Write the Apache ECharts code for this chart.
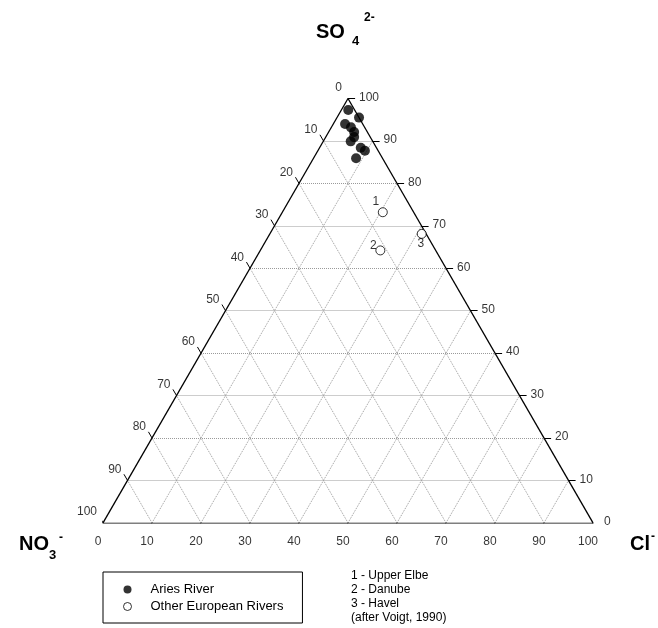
<!DOCTYPE html>
<html>
<head>
<meta charset="utf-8">
<script src="https://cdn.jsdelivr.net/npm/echarts@6/dist/echarts.min.js"></script>
<style>
  html, body { margin: 0; padding: 0; background: #fff; }
  #chart { width: 658px; height: 628px; }
</style>
</head>
<body>
<div id="chart"></div>
<script>
// Anion composition (percent): SO4, Cl; NO3 is the remainder.
const ariesSO4 = [97.3, 95.5, 94.0, 93.2, 92.1, 90.9, 89.9, 88.4, 87.7, 85.9];
const ariesCl  = [1.4, 4.5, 2.4, 4.0, 5.2, 5.8, 5.6, 8.4, 9.6, 8.7];

const riverNames = ['Upper Elbe', 'Danube', 'Havel'];
const riverNums  = ['1', '2', '3'];
const riverSO4   = [73.2, 64.2, 68.1];
const riverCl    = [20.5, 24.5, 31.0];

const tickValues = [0, 10, 20, 30, 40, 50, 60, 70, 80, 90, 100];
const gridLevels = [10, 20, 30, 40, 50, 60, 70, 80, 90];

const FONT = 'Liberation Sans, Arial, sans-serif';
const H = Math.sqrt(3) / 2;

// ternary (SO4 at top, Cl at right, NO3 at left) -> cartesian data units
function toXY(so4, cl) {
  return [cl + so4 / 2, so4 * H];
}

// grid lines
const gridSegs = [];
gridLevels.forEach(k => {
  gridSegs.push({ coords: [toXY(k, 0), toXY(k, 100 - k)] });        // constant SO4
  gridSegs.push({ coords: [toXY(0, k), toXY(100 - k, k)] });        // constant Cl
  gridSegs.push({ coords: [toXY(0, 100 - k), toXY(100 - k, 0)] });  // constant NO3
});

// triangle frame
const frame = [
  { coords: [toXY(0, 0), toXY(0, 100)] },
  { coords: [toXY(0, 100), toXY(100, 0)] },
  { coords: [toXY(100, 0), toXY(0, 0)] }
];

// tick marks and their labels
const TL = 1.45;
const tickSegs = [];
const bottomLabels = [], rightLabels = [], leftLabels = [];
tickValues.forEach(v => {
  const b = toXY(0, v);
  tickSegs.push({ coords: [b, [b[0] - 0.5 * TL, b[1] - H * TL]] });
  bottomLabels.push({ value: b, name: String(v) });

  const r = toXY(v, 100 - v);
  tickSegs.push({ coords: [r, [r[0] + TL, r[1]]] });
  rightLabels.push({ value: r, name: String(v) });

  const l = toXY(100 - v, 0);
  tickSegs.push({ coords: [l, [l[0] - 0.5 * TL, l[1] + H * TL]] });
  leftLabels.push({ value: l, name: String(v) });
});

const ariesData = ariesSO4.map((s, i) => toXY(s, ariesCl[i]));

const numOffsets = [[-7, -11], [-7, -5], [-1, 10]];
const riverData = riverSO4.map((s, i) => ({
  name: riverNames[i],
  value: toXY(s, riverCl[i]),
  label: {
    show: true,
    formatter: riverNums[i],
    position: 'inside',
    offset: numOffsets[i],
    color: '#000',
    fontSize: 12,
    fontFamily: FONT
  }
}));

function labelSeries(data, offset, align) {
  return {
    type: 'scatter',
    symbolSize: 0,
    silent: true,
    data: data,
    label: {
      show: true,
      formatter: '{b}',
      position: 'inside',
      offset: offset,
      align: align,
      verticalAlign: 'middle',
      color: '#000',
      fontSize: 12,
      fontFamily: FONT
    },
    z: 5
  };
}

const chart = echarts.init(document.getElementById('chart'), null, { renderer: 'canvas' });

chart.setOption({
  backgroundColor: '#fff',
  animation: false,
  grid: { left: 103, top: 98.5, width: 490, height: 490 * H },
  xAxis: { type: 'value', min: 0, max: 100, show: false },
  yAxis: { type: 'value', min: 0, max: 100 * H, show: false },
  legend: {
    data: ['Aries River', 'Other European Rivers'],
    orient: 'vertical',
    left: 103,
    top: 572,
    itemWidth: 36,
    itemHeight: 8,
    itemGap: 4,
    padding: [11, 19, 10, 20],
    borderColor: '#000',
    borderWidth: 1,
    borderRadius: 0,
    itemStyle: { borderWidth: 1 },
    textStyle: { fontSize: 13, color: '#000', fontFamily: FONT }
  },
  graphic: [
    { type: 'text', left: 316, top: 22, style: { text: 'SO', font: 'bold 20px ' + FONT, fill: '#000' } },
    { type: 'text', left: 352, top: 35, style: { text: '4', font: 'bold 13px ' + FONT, fill: '#000' } },
    { type: 'text', left: 364, top: 12, style: { text: '2-', font: 'bold 12px ' + FONT, fill: '#000' } },

    { type: 'text', left: 19, top: 534, style: { text: 'NO', font: 'bold 20px ' + FONT, fill: '#000' } },
    { type: 'text', left: 49, top: 549, style: { text: '3', font: 'bold 13px ' + FONT, fill: '#000' } },
    { type: 'text', left: 59, top: 532, style: { text: '-', font: 'bold 12px ' + FONT, fill: '#000' } },

    { type: 'text', left: 630, top: 534, style: { text: 'Cl', font: 'bold 20px ' + FONT, fill: '#000' } },
    { type: 'text', left: 651, top: 531, style: { text: '-', font: 'bold 12px ' + FONT, fill: '#000' } },

    {
      type: 'text', left: 351, top: 569,
      style: {
        text: riverNums.map((n, i) => n + ' - ' + riverNames[i]).join('\n') + '\n(after Voigt, 1990)',
        font: '12px ' + FONT, fill: '#000', lineHeight: 14
      }
    }
  ],
  series: [
    {
      type: 'lines', coordinateSystem: 'cartesian2d', silent: true, z: 1,
      lineStyle: { color: '#9a9a9a', width: 1, type: 'dotted', opacity: 1 },
      data: gridSegs
    },
    {
      type: 'lines', coordinateSystem: 'cartesian2d', silent: true, z: 2,
      lineStyle: { color: '#000', width: 1.3, opacity: 1 },
      data: frame
    },
    {
      type: 'lines', coordinateSystem: 'cartesian2d', silent: true, z: 2,
      lineStyle: { color: '#000', width: 1, opacity: 1 },
      data: tickSegs
    },
    labelSeries(bottomLabels, [-5, 19], 'center'),
    labelSeries(rightLabels, [11, -1], 'left'),
    labelSeries(leftLabels, [-6, -11], 'right'),
    {
      name: 'Aries River',
      type: 'scatter',
      symbol: 'circle',
      symbolSize: 10,
      itemStyle: { color: '#000' },
      data: ariesData,
      z: 10
    },
    {
      name: 'Other European Rivers',
      type: 'scatter',
      symbol: 'circle',
      symbolSize: 9,
      itemStyle: { color: '#fff', borderColor: '#000', borderWidth: 1 },
      data: riverData,
      z: 10
    }
  ]
});
</script>
</body>
</html>
